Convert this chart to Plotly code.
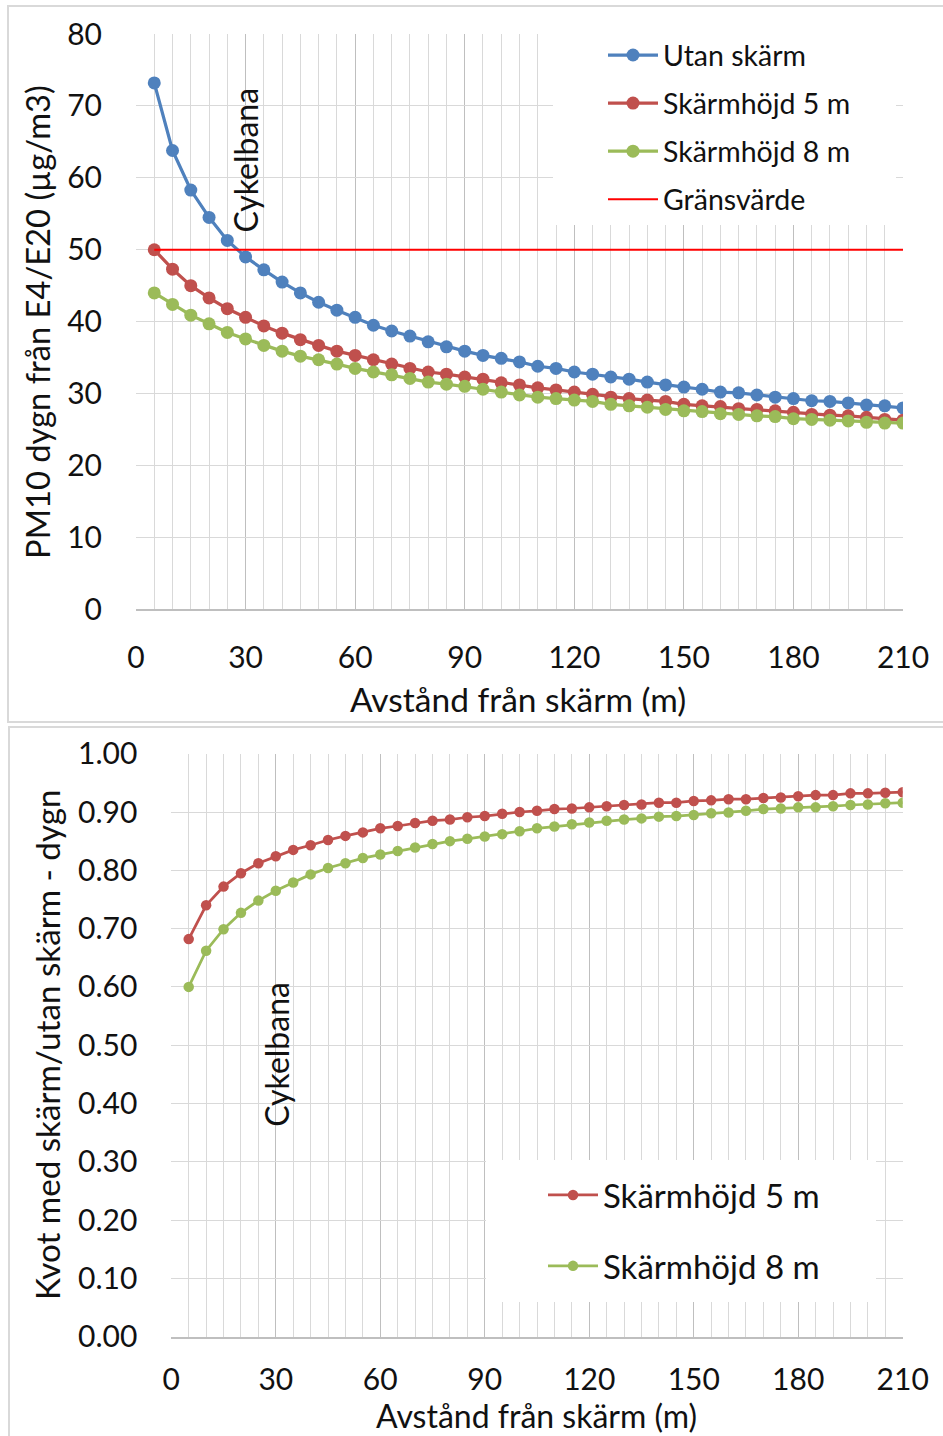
import plotly.graph_objects as go

# Distance from the noise barrier (m)
DIST = [5, 10, 15, 20, 25, 30, 35, 40, 45, 50, 55, 60, 65, 70, 75, 80, 85,
        90, 95, 100, 105, 110, 115, 120, 125, 130, 135, 140, 145, 150, 155,
        160, 165, 170, 175, 180, 185, 190, 195, 200, 205, 210]

# PM10 daily values from E4/E20 (µg/m3)
UTAN_SKARM = [73.2, 63.8, 58.3, 54.5, 51.3, 49.0, 47.2, 45.5, 44.0, 42.7,
              41.6, 40.6, 39.5, 38.7, 38.0, 37.2, 36.5, 35.9, 35.3, 34.9,
              34.4, 33.8, 33.5, 33.0, 32.7, 32.3, 32.0, 31.6, 31.2, 30.9,
              30.6, 30.2, 30.1, 29.8, 29.5, 29.3, 29.0, 28.9, 28.7, 28.4,
              28.3, 28.0]
SKARM_5M = [50.0, 47.3, 45.0, 43.3, 41.8, 40.6, 39.4, 38.4, 37.5, 36.7,
            35.9, 35.3, 34.7, 34.1, 33.5, 33.0, 32.7, 32.3, 32.0, 31.5,
            31.2, 30.8, 30.5, 30.2, 29.9, 29.5, 29.3, 29.1, 28.9, 28.5,
            28.3, 28.2, 27.9, 27.8, 27.6, 27.4, 27.1, 27.0, 26.9, 26.7,
            26.4, 26.3]
SKARM_8M = [44.0, 42.4, 40.9, 39.7, 38.5, 37.6, 36.7, 35.9, 35.2, 34.7,
            34.1, 33.5, 33.0, 32.6, 32.1, 31.6, 31.3, 31.0, 30.6, 30.2,
            29.8, 29.5, 29.3, 29.1, 28.9, 28.5, 28.3, 28.1, 27.8, 27.6,
            27.5, 27.2, 27.1, 26.9, 26.8, 26.5, 26.4, 26.3, 26.2, 26.0,
            25.9, 25.9]
GRANSVARDE = 50

# Ratio with barrier / without barrier (daily)
KVOT_5M = [0.682, 0.740, 0.772, 0.795, 0.812, 0.824, 0.835, 0.843, 0.852,
           0.859, 0.865, 0.872, 0.876, 0.881, 0.885, 0.887, 0.891, 0.893,
           0.897, 0.900, 0.902, 0.905, 0.906, 0.908, 0.910, 0.912, 0.913,
           0.916, 0.916, 0.919, 0.920, 0.922, 0.922, 0.924, 0.925, 0.927,
           0.929, 0.929, 0.932, 0.932, 0.933, 0.934]
KVOT_8M = [0.600, 0.662, 0.699, 0.727, 0.748, 0.765, 0.779, 0.793, 0.804,
           0.812, 0.821, 0.827, 0.833, 0.839, 0.845, 0.850, 0.854, 0.858,
           0.862, 0.867, 0.872, 0.875, 0.879, 0.882, 0.885, 0.887, 0.889,
           0.892, 0.893, 0.895, 0.898, 0.899, 0.902, 0.905, 0.906, 0.908,
           0.908, 0.910, 0.912, 0.913, 0.915, 0.916]

X_TICKS = [0, 30, 60, 90, 120, 150, 180, 210]
X_RANGE = [0, 210]
Y1_RANGE = [0, 80]
Y2_RANGE = [0, 1]
CYKELBANA_X = 30

BLUE = "#4F81BD"
RED = "#C0504D"
GREEN = "#9BBB59"
LIMIT_RED = "#FF0000"
FONT = "Lato"
TXT = "#111111"

W, H = 943, 1436

# plot-area pixel boxes (left, right, top, bottom)
BOX1 = (136, 903, 34, 609.3)
BOX2 = (171.3, 902.7, 753.7, 1336.7)


def px_x(p):
    return p / W


def px_y(p):
    return 1 - p / H


def to_axis(box, xr, yr, px, py):
    """Convert a pixel position inside a plot box to axis units."""
    l, r, t, b = box
    ax = xr[0] + (px - l) / (r - l) * (xr[1] - xr[0])
    ay = yr[0] + (b - py) / (b - t) * (yr[1] - yr[0])
    return ax, ay


fig = go.Figure()

# --- upper chart: concentrations ---
for name, vals, col in [("Utan skärm", UTAN_SKARM, BLUE),
                        ("Skärmhöjd 5 m", SKARM_5M, RED),
                        ("Skärmhöjd 8 m", SKARM_8M, GREEN)]:
    fig.add_trace(go.Scatter(
        x=DIST, y=vals, name=name, mode="lines+markers",
        line=dict(color=col, width=3.25), marker=dict(color=col, size=13),
        xaxis="x", yaxis="y", legend="legend", legendgroup=name,
    ))
fig.add_trace(go.Scatter(
    x=DIST, y=[GRANSVARDE] * len(DIST), name="Gränsvärde", mode="lines",
    line=dict(color=LIMIT_RED, width=2), xaxis="x", yaxis="y",
    legend="legend", legendgroup="Gränsvärde",
))

# --- lower chart: ratios ---
for name, vals, col in [("Skärmhöjd 5 m", KVOT_5M, RED),
                        ("Skärmhöjd 8 m", KVOT_8M, GREEN)]:
    fig.add_trace(go.Scatter(
        x=DIST, y=vals, name=name, mode="lines+markers",
        line=dict(color=col, width=2.75), marker=dict(color=col, size=10.5),
        xaxis="x2", yaxis="y2", legend="legend2", legendgroup="k" + name,
    ))

tickfont = dict(family=FONT, size=30, color=TXT)

common_x = dict(
    range=X_RANGE, tickvals=X_TICKS, showgrid=True, gridcolor="#BFBFBF",
    gridwidth=1, minor=dict(dtick=5, tick0=0, showgrid=True,
                            gridcolor="#D9D9D9", gridwidth=1),
    showline=True, linecolor="#BFBFBF", linewidth=1.5, zeroline=False,
    ticks="", tickfont=tickfont, fixedrange=True, automargin=False,
)
common_y = dict(
    showgrid=True, gridcolor="#D9D9D9", gridwidth=1, zeroline=False,
    showline=False, ticks="", tickfont=tickfont, ticklabelstandoff=33,
    fixedrange=True, automargin=False,
)

fig.update_layout(
    template="none",
    width=W, height=H, margin=dict(l=0, r=0, t=0, b=0, autoexpand=False),
    paper_bgcolor="white", plot_bgcolor="white",
    font=dict(family=FONT, color=TXT),
    xaxis=dict(domain=[px_x(BOX1[0]), px_x(BOX1[1])], anchor="y",
               ticklabelstandoff=21, **common_x),
    yaxis=dict(domain=[px_y(BOX1[3]), px_y(BOX1[2])], anchor="x",
               range=Y1_RANGE, dtick=10, **common_y),
    xaxis2=dict(domain=[px_x(BOX2[0]), px_x(BOX2[1])], anchor="y2",
                ticklabelstandoff=16, **common_x),
    yaxis2=dict(domain=[px_y(BOX2[3]), px_y(BOX2[2])], anchor="x2",
                range=Y2_RANGE, dtick=0.1, tickformat=".2f", **common_y),
    legend=dict(x=px_x(603), y=px_y(30), xanchor="left", yanchor="top",
                bgcolor="rgba(0,0,0,0)", borderwidth=0,
                font=dict(family=FONT, size=28.5, color=TXT),
                itemwidth=50, tracegroupgap=8, traceorder="grouped"),
    legend2=dict(x=px_x(543), y=px_y(1167), xanchor="left", yanchor="top",
                 bgcolor="rgba(0,0,0,0)", borderwidth=0,
                 font=dict(family=FONT, size=33, color=TXT),
                 itemwidth=50, tracegroupgap=25, traceorder="grouped"),
    showlegend=True,
)

# white panels behind the legends (above the grid, below the data)
lx0, ly0 = to_axis(BOX1, X_RANGE, Y1_RANGE, 553, 225)
lx1, ly1 = to_axis(BOX1, X_RANGE, Y1_RANGE, 896, 34)
fig.add_shape(type="rect", xref="x", yref="y", x0=lx0, x1=lx1, y0=ly0,
              y1=ly1, fillcolor="white", line=dict(width=0), layer="between")
lx0, ly0 = to_axis(BOX2, X_RANGE, Y2_RANGE, 486, 1302)
lx1, ly1 = to_axis(BOX2, X_RANGE, Y2_RANGE, 876, 1160)
fig.add_shape(type="rect", xref="x2", yref="y2", x0=lx0, x1=lx1, y0=ly0,
              y1=ly1, fillcolor="white", line=dict(width=0), layer="between")

# chart frames
fig.add_shape(type="rect", xref="paper", yref="paper",
              x0=px_x(8), x1=1.003, y0=px_y(722), y1=px_y(6),
              line=dict(color="#D9D9D9", width=2), fillcolor="rgba(0,0,0,0)")
fig.add_shape(type="rect", xref="paper", yref="paper",
              x0=px_x(9), x1=1.003, y0=-0.003, y1=px_y(727),
              line=dict(color="#D9D9D9", width=2), fillcolor="rgba(0,0,0,0)")

cyk_font = dict(family=FONT, size=32, color=TXT)
mid = dict(showarrow=False, xanchor="center", yanchor="middle")
annos = [
    dict(text="Avstånd från skärm (m)", xref="paper", yref="paper",
         x=px_x(518), y=px_y(699),
         font=dict(family=FONT, size=33.5, color=TXT), **mid),
    dict(text="PM10 dygn från E4/E20 (µg/m3)", xref="paper", yref="paper",
         x=px_x(38), y=px_y(322), textangle=-90,
         font=dict(family=FONT, size=32.7, color=TXT), **mid),
    dict(text="Kvot med skärm/utan skärm - dygn", xref="paper", yref="paper",
         x=px_x(47), y=px_y(1045), textangle=-90,
         font=dict(family=FONT, size=33.2, color=TXT), **mid),
    dict(text="Avstånd från skärm (m)", xref="paper", yref="paper",
         x=px_x(536), y=px_y(1415.5),
         font=dict(family=FONT, size=32, color=TXT), **mid),
    dict(text="Cykelbana", xref="x", yref="paper", x=CYKELBANA_X,
         y=px_y(160), textangle=-90, font=cyk_font, **mid),
    dict(text="Cykelbana", xref="x2", yref="paper", x=CYKELBANA_X,
         y=px_y(1054), textangle=-90, font=cyk_font, **mid),
]
fig.update_layout(annotations=annos)

fig.write_html("out.html")
